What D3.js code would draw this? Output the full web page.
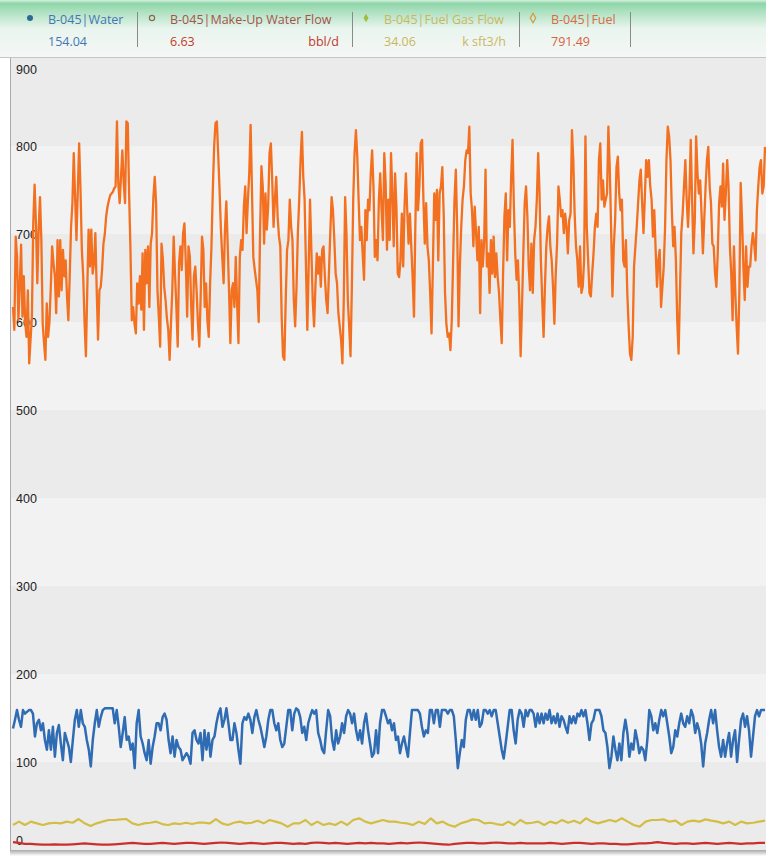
<!DOCTYPE html>
<html><head><meta charset="utf-8">
<script src="https://cdn.jsdelivr.net/npm/d3@7"></script>
<style>
html,body{margin:0;padding:0;background:#fff;}
svg{display:block;font-family:"Open Sans","Noto Sans",sans-serif;}
</style></head>
<body>
<script>
// ---------- DATA ----------
const yTicks = [0,100,200,300,400,500,600,700,800,900];

const seriesNames = ["B-045|Water","B-045|Make-Up Water Flow","B-045|Fuel Gas Flow","B-045|Fuel"];
const seriesValues = ["154.04","6.63","34.06","791.49"];
const seriesUnits = ["","bbl/d","k sft3/h",""];

const fuel = [617,591,697,674,602,640,688,606,652,600,583,636,553,580,606,712,756,712,644,705,742,693,598,576,557,621,583,600,640,686,667,652,610,693,629,693,636,682,652,670,629,602,652,708,735,792,742,693,750,803,750,682,652,600,561,636,705,663,705,655,667,701,636,580,636,640,660,689,700,720,731,738,744,746,748,752,754,828,758,735,765,795,758,735,828,826,746,682,602,617,598,587,644,621,652,614,678,591,682,644,686,617,689,701,742,765,735,636,606,572,689,672,640,625,604,591,557,598,636,697,655,617,572,667,686,659,701,712,667,606,686,674,617,580,652,663,636,598,572,629,697,682,617,644,602,583,644,686,750,800,826,828,790,750,705,674,644,705,737,689,636,576,636,644,617,674,621,576,674,693,682,731,754,701,739,769,824,750,674,660,648,636,600,
701,777,754,689,746,705,731,792,803,761,708,739,765,720,697,686,606,561,557,625,682,693,739,708,693,625,595,640,701,739,784,816,765,739,663,591,663,739,682,625,595,640,678,655,674,640,682,686,652,625,610,655,701,742,727,693,655,644,610,595,580,553,625,742,701,625,595,561,640,739,792,818,788,739,693,708,678,648,727,693,739,727,769,795,754,674,693,670,739,769,727,693,792,758,682,739,693,792,746,686,769,731,
655,651,670,723,663,731,769,727,689,723,686,651,606,708,792,727,754,803,807,739,689,735,686,670,633,587,663,746,716,750,670,746,754,776,723,633,598,583,587,568,602,670,739,773,708,595,663,708,739,754,784,795,792,822,746,727,686,731,701,670,708,610,693,663,693,773,663,678,633,693,655,697,651,678,651,633,602,576,655,720,746,670,727,708,765,807,731,678,648,670,625,561,617,678,735,754,720,663,636,689,633,693,708,739,792,746,670,625,583,640,686,708,720,686,670,640,598,655,689,754,739,720,727,701,723,708,678,716,723,818,784,723,686,670,640,686,633,640,670,811,708,670,633,629,655,678,708,723,708,784,803,739,761,731,739,746,822,776,708,629,686,716,776,788,746,727,739,670,663,693,633,595,564,557,583,663,686,708,735,761,773,735,701,742,784,765,784,754,739,697,727,682,640,670,682,617,640,663,708,784,822,811,784,727,686,708,670,602,564,633,701,723,754,784,739,708,746,807,739,678,716,811,769,746,761,723,678,716,754,784,799,754,735,689,686,655,640,678,735,754,731,780,716,746,784,754,686,655,602,686,633,595,564,633,758,716,663,625,686,640,663,663,686,701,689,670,727,754,776,784,746,754,799];

const water = [138,148,159,148,140,159,155,157,159,159,155,129,144,148,136,144,125,114,136,114,140,106,133,142,121,102,133,125,117,100,125,148,159,140,159,144,140,125,114,95,125,144,159,140,151,159,161,161,161,161,161,144,159,140,117,133,151,125,129,114,121,93,144,159,129,121,110,102,125,98,117,129,144,144,136,151,155,148,125,110,129,106,125,117,114,102,106,110,106,98,133,136,125,121,133,102,136,114,133,106,125,129,144,155,161,140,148,161,144,125,125,144,133,114,98,144,151,148,155,148,133,151,159,148,140,129,117,129,148,159,159,144,136,144,125,117,121,140,159,159,136,155,161,159,151,
133,140,125,144,152,159,155,159,133,125,114,110,136,159,152,125,114,136,121,129,144,133,152,159,155,144,155,136,125,136,121,144,155,136,121,106,110,136,110,144,159,159,152,144,148,136,144,125,129,110,121,129,117,106,133,159,159,159,159,155,140,129,136,133,159,159,144,159,159,140,159,159,159,155,159,159,152,125,93,110,125,117,148,159,159,148,159,148,159,140,144,159,159,155,159,152,159,159,144,129,114,104,121,140,159,159,136,121,148,159,155,140,159,152,159,159,155,140,155,
144,155,144,155,148,159,144,152,144,155,140,152,148,140,133,152,144,152,144,155,152,159,152,159,144,125,144,148,159,159,159,152,136,133,117,93,106,129,114,102,121,102,133,148,133,106,121,114,136,125,110,117,114,102,125,159,152,136,144,133,148,159,152,159,144,129,110,117,136,129,144,155,144,140,152,144,159,152,133,144,136,121,95,121,133,148,159,144,159,136,117,106,125,106,121,133,106,125,136,100,125,148,155,140,152,136,106,129,152,159,152,159,159,159];

const fuelGas = [28.4,32.2,28.4,32.2,30.3,28.4,30.3,31,30.3,32.2,31,35.2,30.3,27.2,30.3,32.2,34.1,34.1,34.8,35.2,30.3,28.4,30.3,31,32.2,29.5,28.4,30.3,29.5,31,29.5,31,31,30.3,35.2,30.3,28.4,31,32.2,30.3,31,33.3,30.3,34.1,32.2,30.3,26.5,30.3,
30.3,34.1,28.4,32.2,28.4,30.3,28.4,32.2,28.4,34.1,36,32.2,30.3,32.2,34.1,32.2,32.2,31,30.3,28.4,32.2,29.5,36,30.3,32.2,28.4,26.5,30.3,32.2,34.8,34.1,30.3,31,29.5,28.4,32.2,28.4,34.1,30.3,31,
32.2,28.4,32.2,30.3,34.1,31,33.3,30.3,36,32.2,30.3,32.2,34.1,32.2,36,32.2,28.4,26.5,32.2,34.1,34.1,34.8,32.2,33.3,28.4,32.2,33.3,32.2,34.8,33.3,32.2,30.3,32.2,28.4,32.2,30.3,31,32.2,33.3];

const makeUp = [9,8,7,7,6.5,6,6,6.5,6,6,6.5,7,7.5,7,6.5,6,6,6.5,7,7.5,8,7.5,7,7,7.5,8,7.5,7,7.5,8,8,7.5,7,7.5,8,8.5,8,7.5,7,7.5,8,7.5,7,7.5,8,8,7.5,7,
7.5,7,8,8.5,8,7.5,8,7.5,7,7.5,8,7.5,8,7.5,7.5,7,7.5,8,7.5,8,8.5,8,7.5,7,6.5,6,7,7.5,8,8,7.5,7.5,8,8.5,8,7.5,7.5,8,7.5,7.5,
7.5,7.5,8,7.5,7,7.5,8,8,7.5,7,7.5,7.5,7,7,6.5,6.5,7,7.5,7.5,8,9,8,7.5,7,7.5,7.5,7,7.5,8,7.5,7,7.5,8,7.5,7,7.5,7.5,8,8];

// ---------- LAYOUT ----------
const W = 769, H = 859;
const P = {left: 11, right: 766, top: 58, bottom: 850};
const svg = d3.select("body").append("svg").attr("width", W).attr("height", H);

const y = d3.scaleLinear().domain([0, 900]).range([P.bottom, P.top]);
const x = d3.scaleLinear().domain([0, 1]).range([13, 765]);

const defs = svg.append("defs");
const hg = defs.append("linearGradient").attr("id","hg").attr("x1",0).attr("y1",0).attr("x2",0).attr("y2",1);
[[0,"#d6efdf"],[0.06,"#8ed6a9"],[0.18,"#a8dfbc"],[0.5,"#e9f5ee"],[1,"#f6f6f6"]].forEach(s=>hg.append("stop").attr("offset",s[0]).attr("stop-color",s[1]));
const sg = defs.append("linearGradient").attr("id","sg").attr("x1",0).attr("y1",0).attr("x2",0).attr("y2",1);
[[0,"#a9a9a9"],[1,"#ffffff"]].forEach(s=>sg.append("stop").attr("offset",s[0]).attr("stop-color",s[1]));
defs.append("clipPath").attr("id","clip").append("rect")
  .attr("x",P.left).attr("y",P.top).attr("width",P.right-P.left).attr("height",P.bottom-P.top);

// header
svg.append("rect").attr("x",0).attr("y",0).attr("width",P.right).attr("height",P.top-1).attr("fill","url(#hg)");
svg.append("line").attr("x1",0).attr("x2",P.right).attr("y1",P.top-0.5).attr("y2",P.top-0.5).attr("stroke","#c4c4c4");

// plot background + bands
svg.append("rect").attr("x",P.left).attr("y",P.top).attr("width",P.right-P.left).attr("height",P.bottom-P.top).attr("fill","#f2f2f2");
svg.append("g").selectAll("rect").data(yTicks.slice(0,-1).filter(v => (v/100)%2===0)).join("rect")
  .attr("x",P.left).attr("width",P.right-P.left)
  .attr("y",d=>y(d+100)).attr("height",d=>y(d)-y(d+100)).attr("fill","#ebebeb");

// frame
svg.append("line").attr("x1",P.left-0.5).attr("x2",P.left-0.5).attr("y1",P.top).attr("y2",P.bottom).attr("stroke","#a8a8a8");
svg.append("rect").attr("x",P.left-1).attr("y",P.bottom).attr("width",P.right-P.left+1).attr("height",6).attr("fill","url(#sg)");

// y axis labels
const ax = svg.append("g").attr("transform",`translate(${P.left+2},0)`)
  .call(d3.axisRight(y).tickValues(yTicks).tickSize(0).tickPadding(3).tickFormat(d3.format("d")));
ax.select(".domain").remove();
ax.selectAll("text").attr("fill","#222").style("font-size","12.5px")
  .attr("dy", d => d===900 ? "1.25em" : d===0 ? "-0.45em" : "0.35em");

// lines
const line = d3.line().x((d,i,arr)=>x(i/(arr.length-1))).y(d=>y(d)).curve(d3.curveLinear);
const lg = svg.append("g").attr("clip-path","url(#clip)").attr("fill","none").attr("stroke-linejoin","round");
lg.append("path").datum(makeUp).attr("d",line).attr("stroke","#c9302c").attr("stroke-width",2.2);
lg.append("path").datum(fuelGas).attr("d",line).attr("stroke","#d3bd45").attr("stroke-width",2.2);
lg.append("path").datum(water).attr("d",line).attr("stroke","#2f6cb3").attr("stroke-width",2.5);
lg.append("path").datum(fuel).attr("d",line).attr("stroke","#f2701f").attr("stroke-width",2.3);

// legend
const itemX = [22, 144, 358, 525];
const sepX = [137, 352, 519, 630];
const nameColors = ["#3f78b5","#a4534a","#c9b760","#d86a45"];
const valColors = ["#3f78b5","#c0392b","#c9b760","#d9603b"];
const leg = svg.append("g");
sepX.forEach(sx => leg.append("line").attr("x1",sx+0.5).attr("x2",sx+0.5).attr("y1",12).attr("y2",47).attr("stroke","#8a8a8a"));
seriesNames.forEach((n,i)=>{
  const g = leg.append("g").attr("transform",`translate(${itemX[i]},0)`);
  const mx = 8, my = 18;
  if(i===0) g.append("circle").attr("cx",mx).attr("cy",my).attr("r",3).attr("fill","#2c6a96");
  if(i===1) g.append("circle").attr("cx",mx).attr("cy",my).attr("r",2.6).attr("fill","none").attr("stroke","#8a6a50").attr("stroke-width",1.2);
  if(i===2) g.append("path").attr("d",d3.symbol(d3.symbolDiamond,22)()).attr("transform",`translate(${mx},${my})`).attr("fill","#9cbf3c");
  if(i===3) g.append("path").attr("d",d3.symbol(d3.symbolDiamond,26)()).attr("transform",`translate(${mx},${my})`).attr("fill","none").attr("stroke","#d09a40").attr("stroke-width",1.2);
  g.append("text").attr("x",26).attr("y",24).attr("fill",nameColors[i]).style("font-size","12.5px").text(n);
  g.append("text").attr("x",26).attr("y",46).attr("fill",valColors[i]).style("font-size","12.5px").text(seriesValues[i]);
  if(seriesUnits[i]) g.append("text").attr("x",sepX[i]-itemX[i]-13).attr("y",46).attr("text-anchor","end")
    .attr("fill",valColors[i]).style("font-size","12.5px").text(seriesUnits[i]);
});
</script>
</body></html>
